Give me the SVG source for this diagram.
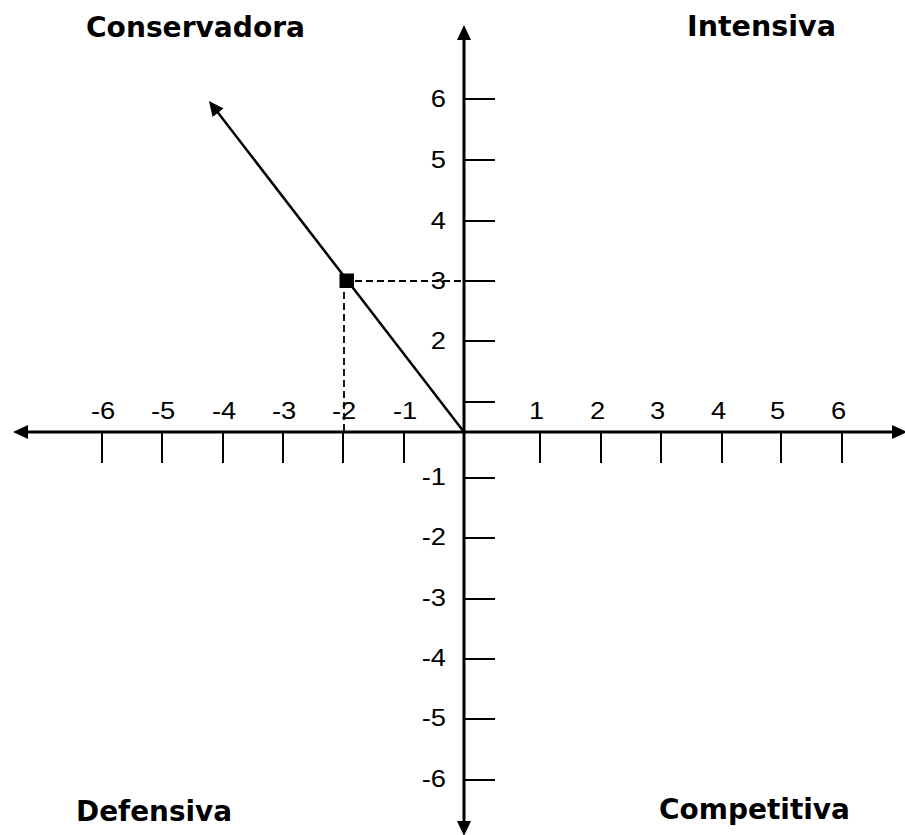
<svg xmlns="http://www.w3.org/2000/svg" width="905" height="835" viewBox="0 0 905 835">
<style>
.axis{stroke:#000;stroke-width:3;fill:none}
.tick{stroke:#000;stroke-width:2;fill:none}
.diag{stroke:#000;stroke-width:2.5;fill:none}
.dash{stroke:#000;stroke-width:1.8;stroke-dasharray:7,4;fill:none}
.num{font-family:"Liberation Sans",Arial,sans-serif;font-size:24px;fill:#000}
.title{font-family:"DejaVu Sans",Verdana,sans-serif;font-weight:bold;font-size:27.5px;fill:#000}
</style>
<defs>
<marker id="arr" viewBox="0 0 15 14" markerUnits="userSpaceOnUse" markerWidth="15" markerHeight="14" refX="1" refY="7" orient="auto-start-reverse">
<path d="M0,0 L15,7 L0,14 z" fill="#000"/>
</marker>
</defs>
<rect width="905" height="835" fill="#fff"/>
<g id="connectors">
<line class="axis" x1="464" y1="39" x2="464" y2="822" marker-start="url(#arr)" marker-end="url(#arr)"/>
<line class="axis" x1="27" y1="432" x2="893" y2="432" marker-start="url(#arr)" marker-end="url(#arr)"/>
<line class="dash" x1="344" y1="281" x2="464" y2="281"/>
<line class="dash" x1="344" y1="281" x2="344" y2="432"/>
<line class="diag" x1="464" y1="432" x2="217.5" y2="112" marker-end="url(#arr)"/>
</g>
<g id="ticks">
<path class="tick" d="M102,432V463M162,432V463M223,432V463M283,432V463M343,432V463M404,432V463M540,432V463M601,432V463M661,432V463M722,432V463M781,432V463M842,432V463"/>
<path class="tick" d="M464,99H495M464,160H495M464,221H495M464,281H495M464,341H495M464,402H495M464,478H495M464,538H495M464,599H495M464,659H495M464,719H495M464,780H495"/>
</g>
<g id="xlabels" class="num">
<text x="91" y="418.5" textLength="24.3" lengthAdjust="spacingAndGlyphs">-6</text>
<text x="151" y="418.5" textLength="24.3" lengthAdjust="spacingAndGlyphs">-5</text>
<text x="212" y="418.5" textLength="24.3" lengthAdjust="spacingAndGlyphs">-4</text>
<text x="272" y="418.5" textLength="24.3" lengthAdjust="spacingAndGlyphs">-3</text>
<text x="332" y="418.5" textLength="24.3" lengthAdjust="spacingAndGlyphs">-2</text>
<text x="393" y="418.5" textLength="24.3" lengthAdjust="spacingAndGlyphs">-1</text>
<text x="529" y="418.5" textLength="15.2" lengthAdjust="spacingAndGlyphs">1</text>
<text x="590" y="418.5" textLength="15.2" lengthAdjust="spacingAndGlyphs">2</text>
<text x="650" y="418.5" textLength="15.2" lengthAdjust="spacingAndGlyphs">3</text>
<text x="711" y="418.5" textLength="15.2" lengthAdjust="spacingAndGlyphs">4</text>
<text x="770" y="418.5" textLength="15.2" lengthAdjust="spacingAndGlyphs">5</text>
<text x="831" y="418.5" textLength="15.2" lengthAdjust="spacingAndGlyphs">6</text>
</g>
<g id="ylabels" class="num">
<text x="430.8" y="107" textLength="15.2" lengthAdjust="spacingAndGlyphs">6</text>
<text x="430.8" y="168" textLength="15.2" lengthAdjust="spacingAndGlyphs">5</text>
<text x="430.8" y="229" textLength="15.2" lengthAdjust="spacingAndGlyphs">4</text>
<text x="430.8" y="289" textLength="15.2" lengthAdjust="spacingAndGlyphs">3</text>
<text x="430.8" y="349" textLength="15.2" lengthAdjust="spacingAndGlyphs">2</text>
<text x="421.7" y="485" textLength="24.3" lengthAdjust="spacingAndGlyphs">-1</text>
<text x="421.7" y="545" textLength="24.3" lengthAdjust="spacingAndGlyphs">-2</text>
<text x="421.7" y="606" textLength="24.3" lengthAdjust="spacingAndGlyphs">-3</text>
<text x="421.7" y="666" textLength="24.3" lengthAdjust="spacingAndGlyphs">-4</text>
<text x="421.7" y="726" textLength="24.3" lengthAdjust="spacingAndGlyphs">-5</text>
<text x="421.7" y="787" textLength="24.3" lengthAdjust="spacingAndGlyphs">-6</text>
</g>
<g id="point">
<rect x="339.5" y="273.5" width="14.5" height="14.5" fill="#000"/>
</g>
<g id="conservadora"><text class="title" x="86" y="36.7" textLength="219" lengthAdjust="spacingAndGlyphs">Conservadora</text></g>
<g id="intensiva"><text class="title" x="687" y="35.7" textLength="149" lengthAdjust="spacingAndGlyphs">Intensiva</text></g>
<g id="defensiva"><text class="title" x="76" y="820.5" textLength="156" lengthAdjust="spacingAndGlyphs">Defensiva</text></g>
<g id="competitiva"><text class="title" x="659" y="818.5" textLength="191" lengthAdjust="spacingAndGlyphs">Competitiva</text></g>
</svg>
